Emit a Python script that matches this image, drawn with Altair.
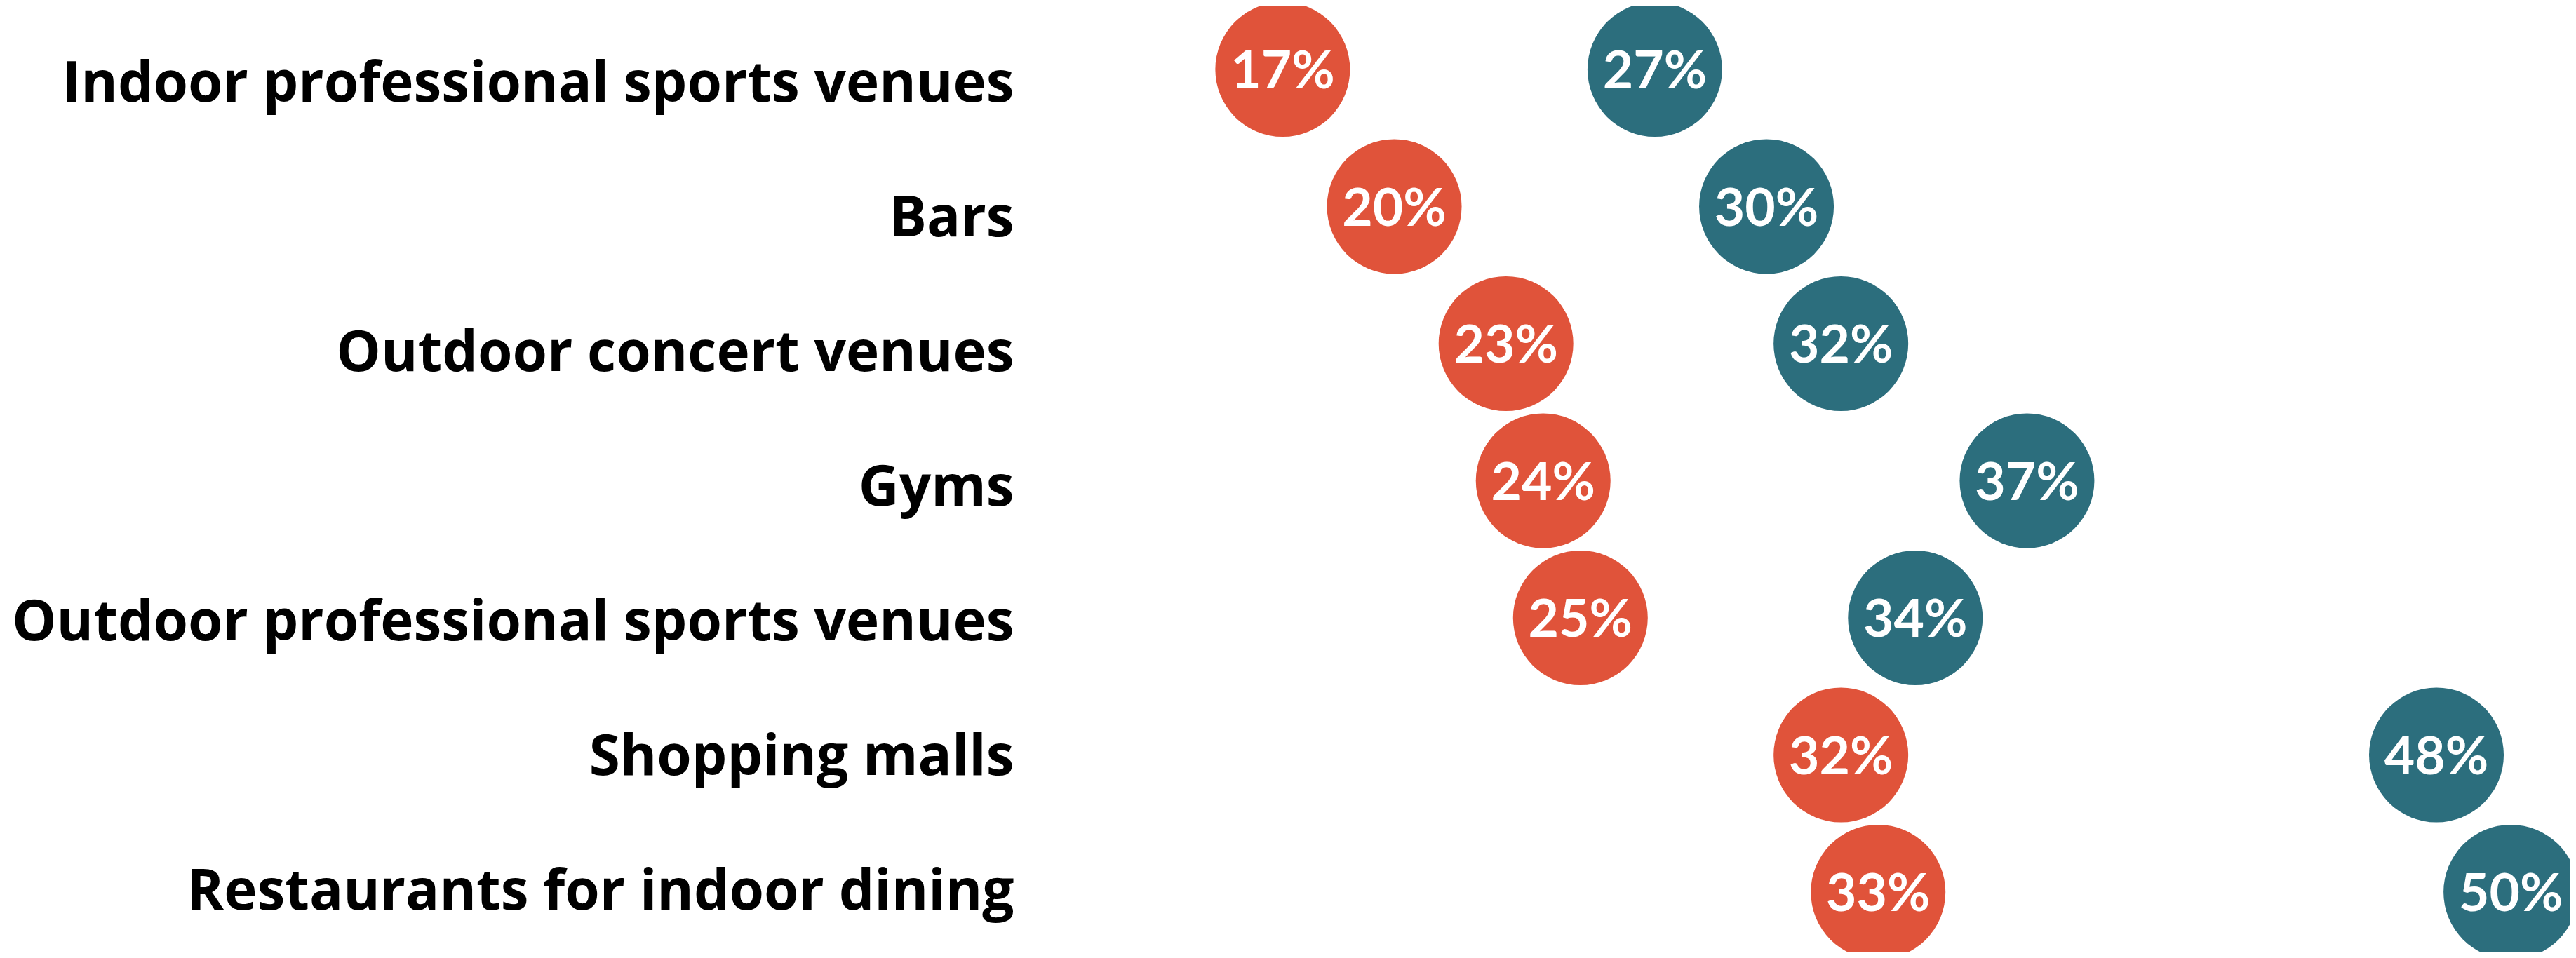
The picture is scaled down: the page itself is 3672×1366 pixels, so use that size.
import altair as alt
import pandas as pd

categories = [
    "Indoor professional sports venues",
    "Bars",
    "Outdoor concert venues",
    "Gyms",
    "Outdoor professional sports venues",
    "Shopping malls",
    "Restaurants for indoor dining",
]
series_names = ["Group A", "Group B"]
values_a = [17, 20, 23, 24, 25, 32, 33]
values_b = [27, 30, 32, 37, 34, 48, 50]
colors = ["#E0533A", "#2C6E7D"]

rows = []
for c, a, b in zip(categories, values_a, values_b):
    rows.append({"venue": c, "series": series_names[0], "value": a, "label": f"{a}%"})
    rows.append({"venue": c, "series": series_names[1], "value": b, "label": f"{b}%"})
df = pd.DataFrame(rows)
cat_df = pd.DataFrame({"venue": categories, "value": values_a})

LABEL_FONT = "Open Sans"
PCT_FONT = "Lato"

x_enc = alt.X("value:Q", scale=alt.Scale(domain=[10, 51.6], nice=False, zero=False), axis=None)
y_dots = alt.Y(
    "venue:N",
    sort=categories,
    scale=alt.Scale(type="point", range=[91, 1264], padding=0),
    axis=None,
)
y_labels = alt.Y(
    "venue:N",
    sort=categories,
    scale=alt.Scale(type="point", range=[112, 1264], padding=0),
    axis=alt.Axis(
        title=None,
        domain=False,
        ticks=False,
        tickSize=0,
        grid=False,
        labelFont=LABEL_FONT,
        labelFontWeight="bold",
        labelFontSize=80,
        labelColor="#000000",
        labelPadding=12,
        labelBaseline="middle",
        labelLimit=2000,
    ),
)

axis_layer = alt.Chart(cat_df).mark_point(opacity=0).encode(x=x_enc, y=y_labels)

base = alt.Chart(df).encode(x=x_enc, y=y_dots)

circles = base.mark_point(filled=True, shape="circle", size=36864, opacity=1).encode(
    color=alt.Color("series:N", scale=alt.Scale(domain=series_names, range=colors), legend=None)
)

labels = base.mark_text(
    font=PCT_FONT, fontWeight="bold", fontSize=75, color="white", baseline="middle", align="center", dy=4
).encode(text="label:N")

dots = alt.layer(circles, labels)

chart = (
    alt.layer(axis_layer, dots)
    .resolve_scale(y="independent")
    .properties(
        width=2207,
        height=1350,
        autosize=alt.AutoSizeParams(type="none"),
        padding={"left": 1449, "top": 0, "right": 0, "bottom": 0},
    )
    .configure_view(stroke=None)
)

chart.save("out.html", embed_options={"renderer": "svg", "actions": False})
